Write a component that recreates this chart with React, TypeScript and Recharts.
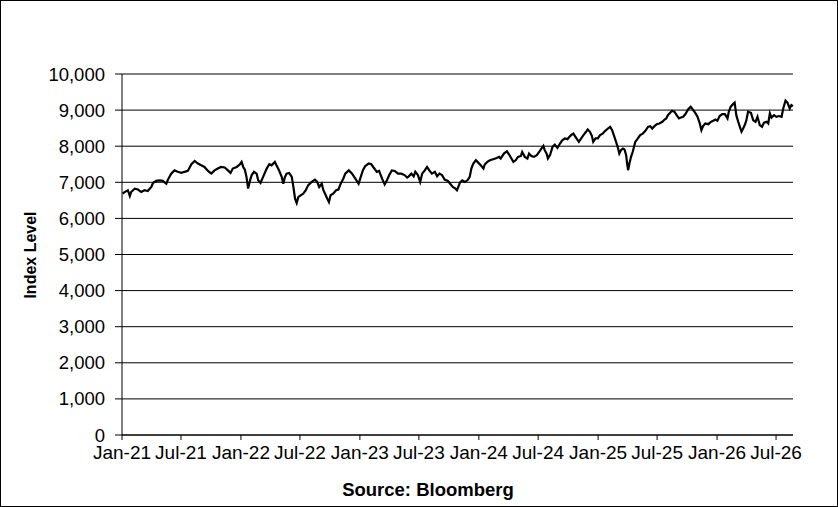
import { LineChart, Line, XAxis, YAxis, CartesianGrid } from "recharts";

// index level readings, [date, value]
const level2021: [string, number][] = [
  ["2021-01-03", 6685], ["2021-01-09", 6730], ["2021-01-19", 6780], ["2021-01-25", 6620],
  ["2021-01-29", 6730], ["2021-02-09", 6820], ["2021-02-19", 6800], ["2021-03-01", 6730],
  ["2021-03-11", 6780], ["2021-03-21", 6760], ["2021-04-01", 6870], ["2021-04-06", 6980],
  ["2021-04-16", 7040], ["2021-04-26", 7055], ["2021-05-06", 7040], ["2021-05-17", 6960],
  ["2021-05-22", 7075], ["2021-06-01", 7240], ["2021-06-11", 7330], ["2021-06-21", 7290],
  ["2021-07-02", 7260], ["2021-07-12", 7290], ["2021-07-22", 7315], ["2021-08-02", 7500],
  ["2021-08-12", 7590], ["2021-08-22", 7520], ["2021-09-01", 7470], ["2021-09-11", 7425],
  ["2021-09-22", 7315], ["2021-10-02", 7240], ["2021-10-12", 7330], ["2021-10-22", 7380],
  ["2021-11-01", 7425], ["2021-11-12", 7410], ["2021-11-22", 7330], ["2021-11-30", 7260],
  ["2021-12-07", 7380], ["2021-12-19", 7425], ["2021-12-29", 7500],
];

const level2022: [string, number][] = [
  ["2022-01-03", 7565], ["2022-01-08", 7425], ["2022-01-13", 7350], ["2022-01-18", 7150],
  ["2022-01-23", 6825], ["2022-01-29", 7055], ["2022-02-03", 7200], ["2022-02-10", 7290],
  ["2022-02-18", 7240], ["2022-02-23", 7055], ["2022-03-02", 6980], ["2022-03-10", 7150],
  ["2022-03-21", 7380], ["2022-03-29", 7500], ["2022-04-05", 7470], ["2022-04-15", 7565],
  ["2022-04-20", 7470], ["2022-04-28", 7330], ["2022-05-06", 7150], ["2022-05-11", 6960],
  ["2022-05-16", 7150], ["2022-05-21", 7240], ["2022-05-29", 7260], ["2022-06-06", 7150],
  ["2022-06-11", 6870], ["2022-06-16", 6545], ["2022-06-21", 6425], ["2022-06-26", 6590],
  ["2022-07-03", 6640], ["2022-07-11", 6685], ["2022-07-19", 6780], ["2022-07-26", 6915],
  ["2022-08-06", 7010], ["2022-08-16", 7075], ["2022-08-23", 7010], ["2022-08-29", 6870],
  ["2022-09-06", 6960], ["2022-09-11", 6780], ["2022-09-16", 6685], ["2022-09-23", 6545],
  ["2022-09-28", 6455], ["2022-10-03", 6640], ["2022-10-11", 6685], ["2022-10-20", 6780],
  ["2022-10-27", 6800], ["2022-11-03", 6960], ["2022-11-11", 7100], ["2022-11-17", 7240],
  ["2022-11-28", 7330], ["2022-12-08", 7240], ["2022-12-18", 7100], ["2022-12-28", 6960],
];

const level2023: [string, number][] = [
  ["2023-01-02", 7100], ["2023-01-10", 7330], ["2023-01-17", 7445], ["2023-01-28", 7520],
  ["2023-02-05", 7500], ["2023-02-12", 7410], ["2023-02-22", 7290], ["2023-03-01", 7315],
  ["2023-03-10", 7100], ["2023-03-18", 6945], ["2023-03-25", 7055], ["2023-04-01", 7200],
  ["2023-04-09", 7330], ["2023-04-18", 7315], ["2023-04-28", 7240], ["2023-05-08", 7240],
  ["2023-05-18", 7200], ["2023-05-26", 7130], ["2023-05-31", 7165], ["2023-06-08", 7240],
  ["2023-06-15", 7165], ["2023-06-20", 7290], ["2023-06-28", 7200], ["2023-07-05", 7010],
  ["2023-07-11", 7240], ["2023-07-19", 7330], ["2023-07-26", 7425], ["2023-08-02", 7330],
  ["2023-08-10", 7240], ["2023-08-19", 7290], ["2023-08-26", 7165], ["2023-09-02", 7240],
  ["2023-09-10", 7200], ["2023-09-18", 7075], ["2023-09-28", 7040], ["2023-10-05", 6960],
  ["2023-10-13", 6870], ["2023-10-21", 6825], ["2023-10-26", 6780], ["2023-11-04", 6990],
  ["2023-11-11", 7055], ["2023-11-19", 7010], ["2023-11-27", 7055], ["2023-12-04", 7150],
  ["2023-12-09", 7380], ["2023-12-15", 7520], ["2023-12-23", 7610], ["2023-12-30", 7545],
];

const level2024: [string, number][] = [
  ["2024-01-07", 7470], ["2024-01-15", 7380], ["2024-01-19", 7490], ["2024-01-27", 7565],
  ["2024-02-04", 7610], ["2024-02-14", 7640], ["2024-02-25", 7675], ["2024-03-03", 7705],
  ["2024-03-08", 7660], ["2024-03-18", 7795], ["2024-03-27", 7860], ["2024-04-03", 7770],
  ["2024-04-10", 7660], ["2024-04-16", 7565], ["2024-04-23", 7610], ["2024-04-30", 7705],
  ["2024-05-09", 7730], ["2024-05-13", 7840], ["2024-05-21", 7705], ["2024-05-29", 7660],
  ["2024-06-03", 7795], ["2024-06-10", 7730], ["2024-06-18", 7705], ["2024-06-27", 7750],
  ["2024-07-04", 7840], ["2024-07-11", 7935], ["2024-07-17", 8010], ["2024-07-21", 7890],
  ["2024-07-27", 7795], ["2024-07-31", 7660], ["2024-08-07", 7770], ["2024-08-14", 7980],
  ["2024-08-21", 8045], ["2024-08-29", 7955], ["2024-09-06", 8075], ["2024-09-13", 8165],
  ["2024-09-21", 8215], ["2024-09-29", 8195], ["2024-10-03", 8240], ["2024-10-10", 8305],
  ["2024-10-17", 8350], ["2024-10-25", 8240], ["2024-11-03", 8120], ["2024-11-10", 8215],
  ["2024-11-17", 8305], ["2024-11-25", 8400], ["2024-11-30", 8465], ["2024-12-07", 8400],
  ["2024-12-13", 8280], ["2024-12-17", 8120], ["2024-12-24", 8215], ["2024-12-31", 8215],
];

const level2025: [string, number][] = [
  ["2025-01-07", 8305], ["2025-01-15", 8350], ["2025-01-23", 8425], ["2025-01-31", 8490],
  ["2025-02-07", 8535], ["2025-02-13", 8445], ["2025-02-20", 8260], ["2025-02-25", 8120],
  ["2025-03-02", 7980], ["2025-03-07", 7795], ["2025-03-12", 7890], ["2025-03-18", 7935],
  ["2025-03-23", 7910], ["2025-03-28", 7750], ["2025-03-31", 7520], ["2025-04-03", 7335],
  ["2025-04-07", 7520], ["2025-04-12", 7705], ["2025-04-17", 7840], ["2025-04-25", 8120],
  ["2025-05-03", 8215], ["2025-05-10", 8305], ["2025-05-18", 8350], ["2025-05-26", 8425],
  ["2025-06-03", 8535], ["2025-06-10", 8555], ["2025-06-16", 8490], ["2025-06-23", 8555],
  ["2025-06-30", 8610], ["2025-07-08", 8630], ["2025-07-17", 8675], ["2025-07-24", 8740],
  ["2025-07-29", 8770], ["2025-08-03", 8860], ["2025-08-10", 8925], ["2025-08-16", 8980],
  ["2025-08-23", 8955], ["2025-08-30", 8860], ["2025-09-06", 8770], ["2025-09-12", 8795],
  ["2025-09-19", 8815], ["2025-09-26", 8890], ["2025-10-04", 9020], ["2025-10-12", 9095],
  ["2025-10-20", 9000], ["2025-10-27", 8910], ["2025-11-02", 8815], ["2025-11-09", 8630],
  ["2025-11-14", 8445], ["2025-11-19", 8555], ["2025-11-26", 8630], ["2025-12-05", 8610],
  ["2025-12-13", 8675], ["2025-12-20", 8705], ["2025-12-27", 8740],
];

const level2026: [string, number][] = [
  ["2026-01-02", 8705], ["2026-01-09", 8835], ["2026-01-17", 8890], ["2026-01-25", 8890],
  ["2026-02-02", 8770], ["2026-02-06", 8955], ["2026-02-12", 9095], ["2026-02-19", 9165],
  ["2026-02-24", 9205], ["2026-03-01", 8860], ["2026-03-07", 8675], ["2026-03-12", 8535],
  ["2026-03-17", 8400], ["2026-03-22", 8490], ["2026-03-27", 8585], ["2026-04-01", 8720],
  ["2026-04-06", 8955], ["2026-04-15", 8925], ["2026-04-22", 8720], ["2026-04-29", 8675],
  ["2026-05-05", 8815], ["2026-05-12", 8585], ["2026-05-19", 8535], ["2026-05-25", 8650],
  ["2026-06-02", 8675], ["2026-06-07", 8630], ["2026-06-12", 8910], ["2026-06-17", 8795],
  ["2026-06-25", 8860], ["2026-07-02", 8815], ["2026-07-10", 8835], ["2026-07-18", 8815],
  ["2026-07-23", 9045], ["2026-07-30", 9260], ["2026-08-05", 9205], ["2026-08-12", 9045],
  ["2026-08-17", 9140], ["2026-08-22", 9110],
];

const xTicks = [
  "2021-01-01", "2021-07-01", "2022-01-01", "2022-07-01", "2023-01-01", "2023-07-01",
  "2024-01-01", "2024-07-01", "2025-01-01", "2025-07-01", "2026-01-01", "2026-07-01",
];
const xStart = "2021-01-01";
const xEnd = "2026-08-22";
const yTicks = [0, 1000, 2000, 3000, 4000, 5000, 6000, 7000, 8000, 9000, 10000];

const MONTHS = ["Jan", "Feb", "Mar", "Apr", "May", "Jun", "Jul", "Aug", "Sep", "Oct", "Nov", "Dec"];

const data = [...level2021, ...level2022, ...level2023, ...level2024, ...level2025, ...level2026].map(
  ([d, v]) => ({ t: Date.parse(d), v })
);

const FONT = "'Liberation Sans', Arial, sans-serif";

const fmtDate = (t: number) => {
  const d = new Date(t);
  return `${MONTHS[d.getUTCMonth()]}-${String(d.getUTCFullYear()).slice(2)}`;
};

export default function App() {
  return (
    <div
      style={{
        position: "absolute",
        left: 0,
        top: 0,
        width: 838,
        height: 507,
        border: "1px solid #000",
        boxSizing: "border-box",
        background: "#fff",
        fontFamily: FONT,
      }}
    >
      <div style={{ position: "absolute", left: -1, top: -1 }}>
        <LineChart width={838} height={507} data={data} margin={{ top: 74, right: 45, bottom: 42, left: 0 }}>
          <CartesianGrid vertical={false} stroke="#000" strokeWidth={1} />
          <XAxis
            dataKey="t"
            type="number"
            scale="linear"
            domain={[Date.parse(xStart), Date.parse(xEnd)]}
            ticks={xTicks.map((d) => Date.parse(d))}
            tickFormatter={fmtDate}
            interval={0}
            height={30}
            tickSize={5}
            tickMargin={6}
            stroke="#000"
            tick={{ fill: "#000", fontSize: 19, fontFamily: FONT }}
          />
          <YAxis
            type="number"
            domain={[0, 10000]}
            ticks={yTicks}
            tickFormatter={(v: number) => v.toLocaleString("en-US")}
            width={122}
            tickSize={7}
            tickMargin={10}
            stroke="#000"
            tick={{ fill: "#000", fontSize: 18.5, fontFamily: FONT }}
          />
          <Line
            type="linear"
            dataKey="v"
            stroke="#000"
            strokeWidth={2.2}
            dot={false}
            isAnimationActive={false}
          />
        </LineChart>
      </div>
      <div
        style={{
          position: "absolute",
          left: 30,
          top: 254,
          transform: "translate(-50%, -50%) rotate(-90deg)",
          fontSize: 16,
          fontWeight: "bold",
          whiteSpace: "nowrap",
          lineHeight: 1,
        }}
      >
        Index Level
      </div>
      <div
        style={{
          position: "absolute",
          left: 327,
          top: 480,
          width: 200,
          textAlign: "center",
          fontSize: 18.5,
          fontWeight: "bold",
          lineHeight: 1,
        }}
      >
        Source: Bloomberg
      </div>
    </div>
  );
}
